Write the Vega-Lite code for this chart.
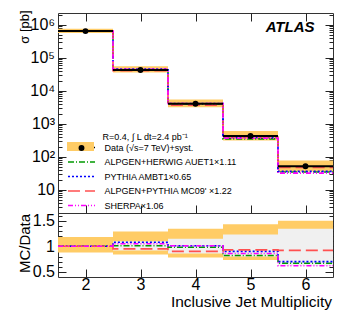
{
  "$schema": "https://vega.github.io/schema/vega-lite/v6.json",
  "padding": {"left": 17, "top": 9, "right": 5, "bottom": 5},
  "bounds": "flush",
  "spacing": 0,
  "config": {
    "font": "Liberation Sans",
    "view": {"stroke": "#333", "strokeWidth": 1},
    "axis": {"domain": false, "grid": false, "labelFont": "Liberation Sans", "titleFont": "Liberation Sans", "labelColor": "black", "titleColor": "black", "tickColor": "#222", "titleFontWeight": "normal", "labelFontSize": 16, "titleFontSize": 15}
  },
  "datasets": {
    "bins": [
      {"n": 2, "lo": 1.5, "hi": 2.5, "series": "Data (√s=7 TeV)+syst.", "band": "syst", "data": 650000, "syst_lo": 572000, "syst_hi": 767000, "r_lo": 0.88, "r_hi": 1.18, "g_lo": null, "g_hi": null},
      {"n": 3, "lo": 2.5, "hi": 3.5, "series": "Data (√s=7 TeV)+syst.", "band": "syst", "data": 43000, "syst_lo": 36100, "syst_hi": 55500, "r_lo": 0.84, "r_hi": 1.29, "g_lo": 0.92, "g_hi": 1.10},
      {"n": 4, "lo": 3.5, "hi": 4.5, "series": "Data (√s=7 TeV)+syst.", "band": "syst", "data": 4100, "syst_lo": 3200, "syst_hi": 5490, "r_lo": 0.78, "r_hi": 1.34, "g_lo": 0.86, "g_hi": 1.145},
      {"n": 5, "lo": 4.5, "hi": 5.5, "series": "Data (√s=7 TeV)+syst.", "band": "syst", "data": 430, "syst_lo": 314, "syst_hi": 615, "r_lo": 0.73, "r_hi": 1.43, "g_lo": 0.80, "g_hi": 1.23},
      {"n": 6, "lo": 5.5, "hi": 6.5, "series": "Data (√s=7 TeV)+syst.", "band": "syst", "data": 52, "syst_lo": 36.4, "syst_hi": 78, "r_lo": 0.68, "r_hi": 1.50, "g_lo": 0.62, "g_hi": 1.34}
    ],
    "mc": [
      {"series": "ALPGEN+HERWIG AUET1×1.11", "edge": 1.5, "val": 650000, "ratio": 1.0},
      {"series": "ALPGEN+HERWIG AUET1×1.11", "edge": 2.5, "val": 43430, "ratio": 1.01},
      {"series": "ALPGEN+HERWIG AUET1×1.11", "edge": 3.5, "val": 4018, "ratio": 0.98},
      {"series": "ALPGEN+HERWIG AUET1×1.11", "edge": 4.5, "val": 352.6, "ratio": 0.82},
      {"series": "ALPGEN+HERWIG AUET1×1.11", "edge": 5.5, "val": 34.84, "ratio": 0.67},
      {"series": "ALPGEN+HERWIG AUET1×1.11", "edge": 6.5, "val": 34.84, "ratio": 0.67},
      {"series": "PYTHIA AMBT1×0.65", "edge": 1.5, "val": 650000, "ratio": 1.0},
      {"series": "PYTHIA AMBT1×0.65", "edge": 2.5, "val": 46440, "ratio": 1.08},
      {"series": "PYTHIA AMBT1×0.65", "edge": 3.5, "val": 4141, "ratio": 1.01},
      {"series": "PYTHIA AMBT1×0.65", "edge": 4.5, "val": 387, "ratio": 0.90},
      {"series": "PYTHIA AMBT1×0.65", "edge": 5.5, "val": 36.4, "ratio": 0.70},
      {"series": "PYTHIA AMBT1×0.65", "edge": 6.5, "val": 36.4, "ratio": 0.70},
      {"series": "ALPGEN+PYTHIA MC09' ×1.22", "edge": 1.5, "val": 650000, "ratio": 1.0},
      {"series": "ALPGEN+PYTHIA MC09' ×1.22", "edge": 2.5, "val": 40850, "ratio": 0.95},
      {"series": "ALPGEN+PYTHIA MC09' ×1.22", "edge": 3.5, "val": 3690, "ratio": 0.90},
      {"series": "ALPGEN+PYTHIA MC09' ×1.22", "edge": 4.5, "val": 399.9, "ratio": 0.93},
      {"series": "ALPGEN+PYTHIA MC09' ×1.22", "edge": 5.5, "val": 47.84, "ratio": 0.92},
      {"series": "ALPGEN+PYTHIA MC09' ×1.22", "edge": 6.5, "val": 47.84, "ratio": 0.92},
      {"series": "SHERPA×1.06", "edge": 1.5, "val": 650000, "ratio": 1.0},
      {"series": "SHERPA×1.06", "edge": 2.5, "val": 45150, "ratio": 1.05},
      {"series": "SHERPA×1.06", "edge": 3.5, "val": 4141, "ratio": 1.01},
      {"series": "SHERPA×1.06", "edge": 4.5, "val": 369.8, "ratio": 0.86},
      {"series": "SHERPA×1.06", "edge": 5.5, "val": 32.24, "ratio": 0.62},
      {"series": "SHERPA×1.06", "edge": 6.5, "val": 32.24, "ratio": 0.62}
    ]
  },
  "resolve": {"scale": {"color": "independent", "strokeDash": "independent"}},
  "vconcat": [
    {
      "width": 275,
      "height": 200,
      "resolve": {"axis": {"x": "independent", "y": "independent"}},
      "layer": [
        {
          "data": {"name": "bins"},
          "mark": {"type": "rect"},
          "encoding": {
            "x": {"field": "lo", "type": "quantitative", "scale": {"domain": [1.5, 6.5], "nice": false, "zero": false}, "axis": {"orient": "bottom", "values": [2, 3, 4, 5, 6], "labels": false, "ticks": true, "tickSize": -8, "title": null}},
            "x2": {"field": "hi"},
            "y": {"field": "syst_lo", "type": "quantitative", "scale": {"type": "log", "domain": [2, 2300000], "nice": false}, "axis": {"orient": "left", "values": [10, 100, 1000, 10000, 100000, 1000000], "ticks": false, "labelPadding": 3.5, "labelExpr": "datum.value == 1000000 ? '10⁶' : datum.value == 100000 ? '10⁵' : datum.value == 10000 ? '10⁴' : datum.value == 1000 ? '10³' : datum.value == 100 ? '10²' : '10'", "title": "σ [pb]", "titleX": -33.5, "titleY": 13.5, "titleAlign": "center", "titleBaseline": "middle", "titleAngle": -90, "titleFontSize": 13}},
            "y2": {"field": "syst_hi"},
            "fill": {"field": "band", "type": "nominal", "scale": {"domain": ["syst"], "range": ["#ffcc66"]}, "legend": {"orient": "none", "legendX": 15.5, "legendY": 126.5, "title": null, "padding": 0, "symbolType": "M-1.93,-0.64H1.93V0.64H-1.93Z", "symbolSize": 196, "symbolStrokeWidth": 0, "labelFontSize": 9, "labelExpr": "''", "zindex": 0}}
          }
        },
        {
          "data": {"name": "mc"},
          "mark": {"type": "line", "interpolate": "step-after", "strokeWidth": 1.6},
          "encoding": {
            "x": {"field": "edge", "type": "quantitative", "scale": {"domain": [1.5, 6.5], "nice": false, "zero": false}, "axis": {"orient": "top", "values": [2, 3, 4, 5, 6], "labels": false, "tickSize": -8, "title": null}},
            "y": {"field": "val", "type": "quantitative", "scale": {"type": "log", "domain": [2, 2300000], "nice": false}, "axis": {"orient": "left", "values": [2,3,4,5,6,7,8,9,10,20,30,40,50,60,70,80,90,100,200,300,400,500,600,700,800,900,1000,2000,3000,4000,5000,6000,7000,8000,9000,10000,20000,30000,40000,50000,60000,70000,80000,90000,100000,200000,300000,400000,500000,600000,700000,800000,900000,1000000,2000000], "labels": false, "tickSize": {"condition": {"test": "indexof([10,100,1000,10000,100000,1000000], datum.value) >= 0", "value": -8}, "value": -4}, "title": null}},
            "color": {"field": "series", "type": "nominal", "scale": {"domain": ["Data (√s=7 TeV)+syst.", "ALPGEN+HERWIG AUET1×1.11", "PYTHIA AMBT1×0.65", "ALPGEN+PYTHIA MC09' ×1.22", "SHERPA×1.06"], "range": ["black", "#009900", "#0000ff", "#ff5050", "#ff00ff"]}, "legend": {"orient": "none", "legendX": 15.5, "legendY": 126.5, "title": null, "padding": 0, "symbolType": "M-1.93,0H1.93", "symbolSize": 196, "symbolStrokeWidth": 1.6, "labelFontSize": 9, "labelFont": "Liberation Sans", "labelColor": "black", "labelOffset": 15, "labelLimit": 300, "rowPadding": 1.5, "zindex": 2}},
            "strokeDash": {"field": "series", "type": "nominal", "scale": {"domain": ["Data (√s=7 TeV)+syst.", "ALPGEN+HERWIG AUET1×1.11", "PYTHIA AMBT1×0.65", "ALPGEN+PYTHIA MC09' ×1.22", "SHERPA×1.06"], "range": [[1, 0], [6, 2, 1, 2], [2, 2], [12, 5], [5, 2, 1, 2, 1, 2]]}, "legend": {"orient": "none", "legendX": 15.5, "legendY": 126.5, "title": null, "padding": 0, "symbolType": "M-1.93,0H1.93", "symbolSize": 196, "symbolStrokeWidth": 1.6, "labelFontSize": 9, "labelFont": "Liberation Sans", "labelColor": "black", "labelOffset": 15, "labelLimit": 300, "rowPadding": 1.5, "zindex": 2}}
          }
        },
        {
          "data": {"name": "bins"},
          "mark": {"type": "rule", "strokeWidth": 2},
          "encoding": {
            "x": {"field": "lo", "type": "quantitative", "scale": {"domain": [1.5, 6.5], "nice": false, "zero": false}, "axis": null},
            "x2": {"field": "hi"},
            "y": {"field": "data", "type": "quantitative", "scale": {"type": "log", "domain": [2, 2300000], "nice": false}, "axis": {"orient": "right", "values": [2,3,4,5,6,7,8,9,10,20,30,40,50,60,70,80,90,100,200,300,400,500,600,700,800,900,1000,2000,3000,4000,5000,6000,7000,8000,9000,10000,20000,30000,40000,50000,60000,70000,80000,90000,100000,200000,300000,400000,500000,600000,700000,800000,900000,1000000,2000000], "labels": false, "tickSize": {"condition": {"test": "indexof([10,100,1000,10000,100000,1000000], datum.value) >= 0", "value": -8}, "value": -4}, "title": null}},
            "color": {"field": "series", "type": "nominal"}
          }
        },
        {
          "data": {"name": "bins"},
          "mark": {"type": "point", "filled": true, "size": 35, "color": "black", "opacity": 1},
          "encoding": {
            "x": {"field": "n", "type": "quantitative", "scale": {"domain": [1.5, 6.5], "nice": false, "zero": false}, "axis": null},
            "y": {"field": "data", "type": "quantitative", "scale": {"type": "log", "domain": [2, 2300000], "nice": false}, "axis": null},
            "shape": {"field": "series", "type": "nominal", "scale": {"domain": ["Data (√s=7 TeV)+syst."], "range": ["circle"]}, "legend": {"orient": "none", "legendX": 19, "legendY": 130.5, "title": null, "padding": 0, "symbolSize": 35, "symbolFillColor": "black", "symbolStrokeWidth": 0, "labelFontSize": 9, "labelExpr": "''", "zindex": 3}}
          }
        },
        {
          "data": {"values": [{}]},
          "mark": {"type": "text", "text": "ATLAS", "font": "Liberation Sans", "fontSize": 15, "fontWeight": "bold", "fontStyle": "italic", "align": "right", "baseline": "middle", "color": "black"},
          "encoding": {
            "x": {"datum": 6.164, "type": "quantitative", "axis": null},
            "y": {"datum": 840000, "type": "quantitative", "axis": null}
          }
        },
        {
          "data": {"values": [{}]},
          "mark": {"type": "text", "text": "R=0.4, ∫ L dt=2.4 pb⁻¹", "font": "Liberation Sans", "fontSize": 9, "align": "left", "baseline": "middle", "color": "black"},
          "encoding": {
            "x": {"datum": 2.31, "type": "quantitative", "axis": null},
            "y": {"datum": 404, "type": "quantitative", "axis": null}
          }
        }
      ]
    },
    {
      "width": 275,
      "height": 64,
      "resolve": {"axis": {"x": "independent", "y": "independent"}},
      "layer": [
        {
          "data": {"name": "bins"},
          "mark": {"type": "rect", "color": "#ffcc66"},
          "encoding": {
            "x": {"field": "lo", "type": "quantitative", "scale": {"domain": [1.5, 6.5], "nice": false, "zero": false}, "axis": {"orient": "bottom", "values": [2, 3, 4, 5, 6], "ticks": false, "labelPadding": -1, "title": "Inclusive Jet Multiplicity", "titleX": 273.5, "titleY": 24, "titleAlign": "right", "titleBaseline": "middle", "titleFontSize": 15.5}},
            "x2": {"field": "hi"},
            "y": {"field": "r_lo", "type": "quantitative", "scale": {"domain": [0.4, 1.65], "nice": false, "zero": false}, "axis": {"orient": "left", "values": [0.5, 1, 1.5], "ticks": false, "labelPadding": 3.5, "labelExpr": "format(datum.value, '~g')", "title": "MC/Data", "titleX": -33.5, "titleY": 30, "titleAlign": "center", "titleBaseline": "middle", "titleAngle": -90}},
            "y2": {"field": "r_hi"}
          }
        },
        {
          "data": {"name": "bins"},
          "mark": {"type": "rect", "color": "#f0f0f0"},
          "encoding": {
            "x": {"field": "lo", "type": "quantitative", "scale": {"domain": [1.5, 6.5], "nice": false, "zero": false}, "axis": {"orient": "bottom", "values": [2, 3, 4, 5, 6], "labels": false, "tickSize": -8, "title": null}},
            "x2": {"field": "hi"},
            "y": {"field": "g_lo", "type": "quantitative", "scale": {"domain": [0.4, 1.65], "nice": false, "zero": false}, "axis": {"orient": "left", "values": [0.5, 0.6, 0.7, 0.8, 0.9, 1, 1.1, 1.2, 1.3, 1.4, 1.5, 1.6], "labels": false, "tickSize": {"condition": {"test": "abs(datum.value * 2 - round(datum.value * 2)) < 0.001", "value": -8}, "value": -4}, "title": null}},
            "y2": {"field": "g_hi"}
          }
        },
        {
          "data": {"name": "mc"},
          "mark": {"type": "line", "interpolate": "step-after", "strokeWidth": 1.6},
          "encoding": {
            "x": {"field": "edge", "type": "quantitative", "scale": {"domain": [1.5, 6.5], "nice": false, "zero": false}, "axis": null},
            "y": {"field": "ratio", "type": "quantitative", "scale": {"domain": [0.4, 1.65], "nice": false, "zero": false}, "axis": {"orient": "right", "values": [0.5, 0.6, 0.7, 0.8, 0.9, 1, 1.1, 1.2, 1.3, 1.4, 1.5, 1.6], "labels": false, "tickSize": {"condition": {"test": "abs(datum.value * 2 - round(datum.value * 2)) < 0.001", "value": -8}, "value": -4}, "title": null}},
            "color": {"field": "series", "type": "nominal", "scale": {"domain": ["Data (√s=7 TeV)+syst.", "ALPGEN+HERWIG AUET1×1.11", "PYTHIA AMBT1×0.65", "ALPGEN+PYTHIA MC09' ×1.22", "SHERPA×1.06"], "range": ["black", "#009900", "#0000ff", "#ff5050", "#ff00ff"]}, "legend": null},
            "strokeDash": {"field": "series", "type": "nominal", "scale": {"domain": ["Data (√s=7 TeV)+syst.", "ALPGEN+HERWIG AUET1×1.11", "PYTHIA AMBT1×0.65", "ALPGEN+PYTHIA MC09' ×1.22", "SHERPA×1.06"], "range": [[1, 0], [6, 2, 1, 2], [2, 2], [12, 5], [5, 2, 1, 2, 1, 2]]}, "legend": null}
          }
        }
      ]
    }
  ]
}
